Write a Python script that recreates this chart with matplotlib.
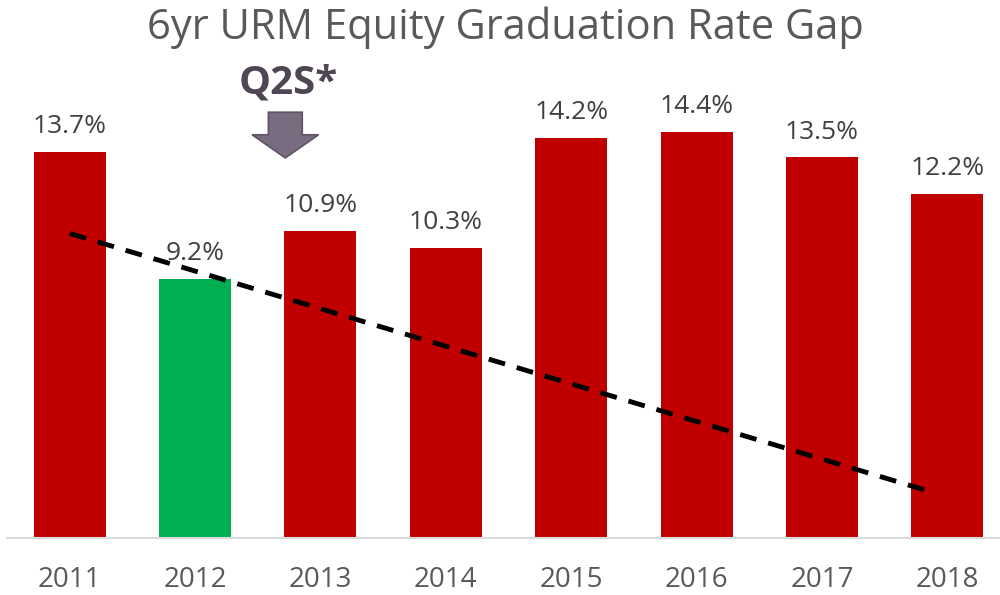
import matplotlib
matplotlib.use("Agg")
import matplotlib.pyplot as plt
from matplotlib.patches import FancyArrow

years = ["2011", "2012", "2013", "2014", "2015", "2016", "2017", "2018"]
gap = [13.7, 9.2, 10.9, 10.3, 14.2, 14.4, 13.5, 12.2]
highlight = "2012"
trend_start = 10.8
trend_end = 1.6

plt.rcParams['font.family'] = ['Open Sans', 'DejaVu Sans']

fig = plt.figure(figsize=(10, 5.95), dpi=100)
ax = fig.add_axes([0.007, 1 - 538 / 595, 1.003, 538 / 595])

x = list(range(len(years)))
colors = ['#00B050' if y == highlight else '#C00000' for y in years]
ax.bar(x, gap, width=0.575, color=colors, zorder=2)

for xi, v in zip(x, gap):
  ax.text(xi, v + 0.45, f"{v}%", ha='center', va='bottom',
          fontsize=19, color='#404040')

# trend line (decorative)
ax.plot([0, 6.9], [trend_start, trend_end], color='black', lw=3.5,
        ls=(0, (3.5, 2.5)), zorder=3)

# Q2S marker
ax.add_patch(FancyArrow(1.72, 15.1, 0, -1.62, width=0.27, head_width=0.53,
                        head_length=0.82, length_includes_head=True,
                        facecolor='#7a6c80', edgecolor='#5e5263', lw=1.2,
                        zorder=4))
ax.text(1.74, 16.15, "Q2S*", ha='center', va='center', fontsize=29,
        fontweight='bold', color='#4f4654')

ax.set_xlim(-0.5, 7.5)
ax.set_ylim(0, 19.08)
ax.set_xticks(x)
ax.set_xticklabels(years, fontsize=20, color='#595959')
ax.tick_params(axis='x', length=0, pad=20)
ax.set_yticks([])
for s in ['top', 'right', 'left']:
  ax.spines[s].set_visible(False)
ax.spines['bottom'].set_color('#d9d9d9')
ax.spines['bottom'].set_linewidth(1.5)

fig.text(0.505, 1 - 28 / 595, "6yr URM Equity Graduation Rate Gap",
         ha='center', va='center', fontsize=30, color='#595959')

fig.savefig("out.png", dpi=100)
plt.close()
